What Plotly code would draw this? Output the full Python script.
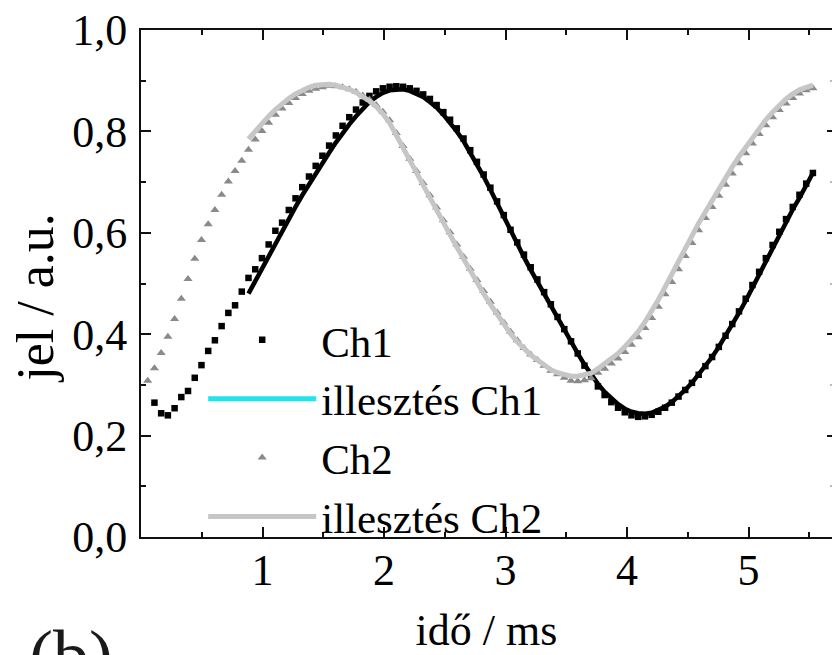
import numpy as np
import plotly.graph_objects as go

# Sampling grid of the recorded traces (ms)
dt_ms = 0.0553
t_ms = np.round(np.arange(1, 101) * dt_ms, 4)

# Ch1 samples (first sample hidden at the axis, data start at index 2)
ch1 = [0.265, 0.244, 0.240, 0.254, 0.276, 0.288, 0.314, 0.339, 0.367, 0.388,
       0.416, 0.442, 0.457, 0.484, 0.511, 0.528, 0.550, 0.577, 0.604, 0.620,
       0.645, 0.668, 0.690, 0.711, 0.732, 0.752, 0.772, 0.792, 0.811, 0.828,
       0.843, 0.857, 0.870, 0.879, 0.885, 0.888, 0.889, 0.888, 0.885, 0.880,
       0.873, 0.864, 0.852, 0.838, 0.823, 0.806, 0.786, 0.763, 0.740, 0.715,
       0.689, 0.662, 0.635, 0.606, 0.581, 0.557, 0.532, 0.508, 0.483, 0.459,
       0.434, 0.410, 0.386, 0.362, 0.338, 0.316, 0.297, 0.280, 0.266, 0.255,
       0.246, 0.240, 0.237, 0.238, 0.241, 0.247, 0.255, 0.265, 0.277, 0.290,
       0.304, 0.320, 0.337, 0.355, 0.375, 0.397, 0.420, 0.445, 0.470, 0.497,
       0.523, 0.550, 0.576, 0.602, 0.627, 0.651, 0.675, 0.697, 0.718]

# Ch2 samples
ch2 = [0.308, 0.333, 0.363, 0.395, 0.430, 0.470, 0.509, 0.549, 0.586, 0.617,
       0.645, 0.675, 0.701, 0.722, 0.742, 0.764, 0.784, 0.801, 0.817, 0.833,
       0.845, 0.856, 0.866, 0.874, 0.880, 0.884, 0.887,
       0.890, 0.889, 0.887, 0.883, 0.878, 0.871, 0.863, 0.852, 0.839, 0.822,
       0.797, 0.771, 0.746, 0.722, 0.698, 0.674, 0.650, 0.625, 0.601, 0.577,
       0.553, 0.529, 0.507, 0.485, 0.464, 0.443, 0.423, 0.405, 0.388, 0.373,
       0.360, 0.349, 0.338, 0.328, 0.321, 0.314,
       0.308, 0.307, 0.309, 0.313, 0.324, 0.332, 0.342, 0.352, 0.365, 0.379,
       0.394, 0.412, 0.432, 0.454, 0.479, 0.503, 0.528, 0.554, 0.580, 0.605,
       0.629, 0.651, 0.673, 0.695, 0.717, 0.737, 0.757, 0.776, 0.795, 0.812,
       0.828, 0.842, 0.855, 0.866, 0.875, 0.881, 0.885]

# Fitted curves, evaluated on the sampling grid from index 16 on
fit1 = [0.480, 0.505, 0.530, 0.555, 0.580, 0.604, 0.628, 0.651, 0.674, 0.696,
        0.717, 0.738, 0.758, 0.778, 0.797, 0.814, 0.830, 0.845, 0.858, 0.868,
        0.876, 0.881, 0.883, 0.883, 0.880, 0.875, 0.868, 0.858, 0.847, 0.833,
        0.818, 0.800, 0.781, 0.759, 0.736, 0.711, 0.685, 0.658, 0.631, 0.603,
        0.577, 0.552, 0.527, 0.503, 0.479, 0.455, 0.431, 0.408, 0.385, 0.362,
        0.340, 0.320, 0.302, 0.286, 0.273, 0.262, 0.253, 0.247, 0.244, 0.243,
        0.245, 0.250, 0.257, 0.266, 0.277, 0.290, 0.304, 0.320, 0.337, 0.355,
        0.375, 0.396, 0.418, 0.442, 0.466, 0.492, 0.518, 0.544, 0.570, 0.596,
        0.621, 0.646, 0.669, 0.692, 0.718]

fit2 = [0.785, 0.801, 0.816, 0.830, 0.843, 0.855, 0.865, 0.874, 0.881, 0.887,
        0.891, 0.893,
        0.893, 0.891, 0.888, 0.883, 0.877, 0.869, 0.860, 0.849, 0.835, 0.817,
        0.792, 0.766, 0.741, 0.717, 0.693, 0.669, 0.645, 0.620, 0.596, 0.572,
        0.548, 0.524, 0.502, 0.480, 0.459, 0.439, 0.419, 0.401, 0.385, 0.371,
        0.359, 0.349, 0.339, 0.330, 0.324, 0.320, 0.317, 0.317, 0.319, 0.323,
        0.332, 0.341, 0.351, 0.362, 0.375, 0.389, 0.405, 0.424, 0.445, 0.468,
        0.493, 0.517, 0.542, 0.568, 0.594, 0.619, 0.642, 0.664, 0.686, 0.708,
        0.730, 0.750, 0.769, 0.788, 0.806, 0.823, 0.838, 0.852, 0.864, 0.874,
        0.882, 0.887, 0.891]

x_ticks = [1, 2, 3, 4, 5]
y_ticks = [0.0, 0.2, 0.4, 0.6, 0.8, 1.0]

FONT = "Liberation Serif, Times New Roman, serif"
AXIS = "#111111"

t_ch1 = t_ms[1:]
t_fit = t_ms[15:]

fig = go.Figure()

fig.add_trace(go.Scatter(
    x=t_ch1, y=ch1, mode="markers", name="Ch1", legendrank=1,
    marker=dict(symbol="square", size=6.5, color="#000000"),
))
fig.add_trace(go.Scatter(
    x=t_fit, y=fit1, mode="lines", name="illesztés Ch1", showlegend=False,
    line=dict(color="#000000", width=4.5),
))
# legend entry of the Ch1 fit
fig.add_trace(go.Scatter(
    x=[None], y=[None], mode="lines", name="illesztés Ch1", legendrank=2,
    line=dict(color="#22e4ee", width=5), yaxis="y2",
))
fig.add_trace(go.Scatter(
    x=t_ms, y=ch2, mode="markers", name="Ch2", legendrank=3,
    marker=dict(symbol="triangle-up", size=8, color="#8a8a8a"),
))
fig.add_trace(go.Scatter(
    x=t_fit, y=fit2, mode="lines", name="illesztés Ch2", legendrank=4,
    line=dict(color="#c6c6c6", width=5),
))

x_max = (832 - 141) / 121.5

fig.update_layout(
    width=832, height=655,
    margin=dict(l=141, r=0, t=30, b=114),
    paper_bgcolor="white", plot_bgcolor="white",
    separators=",.",
    font=dict(family=FONT, size=44, color="#000000"),
    showlegend=True,
    legend=dict(
        x=0.09, y=0.457, xanchor="left", yanchor="top",
        bgcolor="rgba(0,0,0,0)", borderwidth=0,
        itemwidth=108, tracegroupgap=0,
        font=dict(family=FONT, size=43, color="#000000"),
    ),
    xaxis=dict(
        range=[0, x_max], showgrid=False, zeroline=False,
        showline=True, linecolor=AXIS, linewidth=2, mirror="ticks",
        ticks="inside", ticklen=10, tickwidth=2, tickcolor=AXIS,
        tickvals=x_ticks, ticklabelstandoff=-7,
        minor=dict(dtick=0.5, tick0=0, ticks="inside", ticklen=5,
                   tickwidth=2, tickcolor=AXIS),
        title=dict(text="idő / ms", standoff=29,
                   font=dict(family=FONT, size=44)),
    ),
    yaxis=dict(
        range=[0, 1.0], showgrid=False, zeroline=False,
        showline=True, linecolor=AXIS, linewidth=2, mirror=False,
        ticks="inside", ticklen=10, tickwidth=2, tickcolor=AXIS,
        tickvals=y_ticks, tickformat=".1f", ticklabelstandoff=3,
        minor=dict(dtick=0.1, tick0=0, ticks="inside", ticklen=5,
                   tickwidth=2, tickcolor=AXIS),
    ),
    yaxis2=dict(
        range=[0, 1.0], overlaying="y", side="right", showgrid=False,
        zeroline=False, showline=False, showticklabels=False,
        ticks="inside", ticklen=5, tickwidth=2, tickcolor=AXIS,
        tickvals=y_ticks,
        minor=dict(dtick=0.1, tick0=0, ticks="inside", ticklen=2,
                   tickwidth=2, tickcolor="#bbbbbb"),
    ),
    annotations=[
        dict(
            text="jel / a.u.", xref="paper", yref="paper",
            x=-0.152, y=0.472, xanchor="center", yanchor="middle",
            textangle=-90, showarrow=False,
            font=dict(family=FONT, size=52, color="#000000"),
        ),
        dict(
            text="(b)", xref="paper", yref="paper",
            x=-0.165, y=-0.152, xanchor="left", yanchor="top", showarrow=False,
            font=dict(family=FONT, size=72, color="#1a1a1a"),
        ),
    ],
)

fig.write_html("out.html")
